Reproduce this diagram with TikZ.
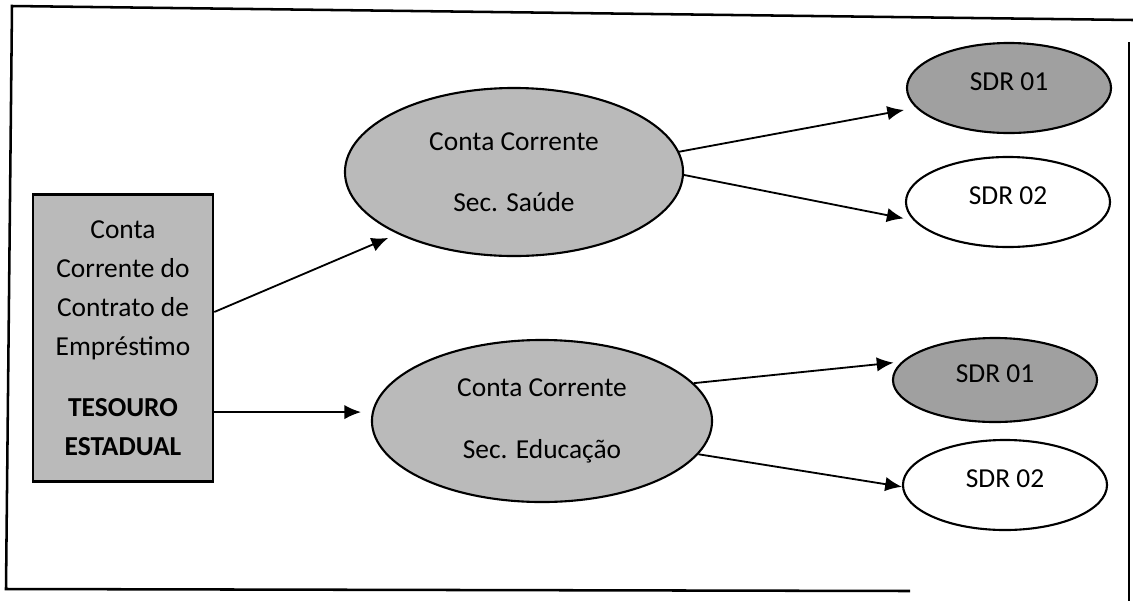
\documentclass[tikz,border=0pt]{standalone}
\usepackage{fontspec}
\setmainfont{Carlito}
\usepackage{xcolor}
\definecolor{color1}{RGB}{186, 186, 186}
\definecolor{color2}{RGB}{160, 160, 160}
\usetikzlibrary{shapes.geometric, arrows.meta}

\begin{document}
\begin{tikzpicture}[x=0.025cm, y=-0.025cm, font=\fontsize{19.5}{27.7}\selectfont,
	conta/.style={draw, line width=1.5pt, ellipse, fill=color1, minimum width=8.45cm, inner sep=0pt, align=center},
	sdr/.style={draw, line width=1.5pt, ellipse, minimum width=5.1cm, minimum height=2.25cm, inner sep=0pt, text depth=0.3cm},
	seta/.style={line width=1.3pt, -{Latex[length=0.42cm, width=0.36cm]}}]
	\useasboundingbox (0,0) rectangle (1133,601);
	\draw[line width=1.8pt] (1133,20) -- (12,6) -- (6,589) -- (910,591);
	\draw[line width=1.8pt] (1129,42) -- (1129,601);
	\node[draw, line width=1.8pt, fill=color1, minimum width=4.5cm, minimum height=7.175cm, inner sep=0pt, align=center] (tesouro) at (123,338)
		{Conta\\Corrente do\\Contrato de\\Empréstimo\\[16pt]\textbf{TESOURO}\\\textbf{ESTADUAL}};
	\node[conta, minimum height=4.2cm] (saude) at (514,172) {Conta Corrente\\[16pt]Sec. Saúde};
	\node[conta, minimum width=8.5cm, minimum height=4.05cm] (educacao) at (542,421) {Conta Corrente\\[16pt]Sec. Educação};
	\node[sdr, fill=color2] (sdr1a) at (1009,88) {SDR 01};
	\node[sdr] (sdr2a) at (1008,202) {SDR 02};
	\node[sdr, fill=color2, minimum height=2.1cm] (sdr1b) at (995,380) {SDR 01};
	\node[sdr] (sdr2b) at (1005,485) {SDR 02};
	\draw[seta, shorten >=0.25cm] ([yshift=0.65cm]tesouro.east) -- (saude.208);
	\draw[seta, shorten >=0.27cm] (tesouro.east |- educacao.177) -- (educacao.177);
	\draw[seta, shorten >=0.3cm] (saude.7) -- (sdr1a.192);
	\draw[seta, shorten >=0.25cm] (saude.-1) -- (sdr2a.191);
	\draw[seta, shorten >=0.2cm] (educacao.14) -- (sdr1b.169);
	\draw[seta] (educacao.-12) -- (sdr2b.181);
\end{tikzpicture}
\end{document}
